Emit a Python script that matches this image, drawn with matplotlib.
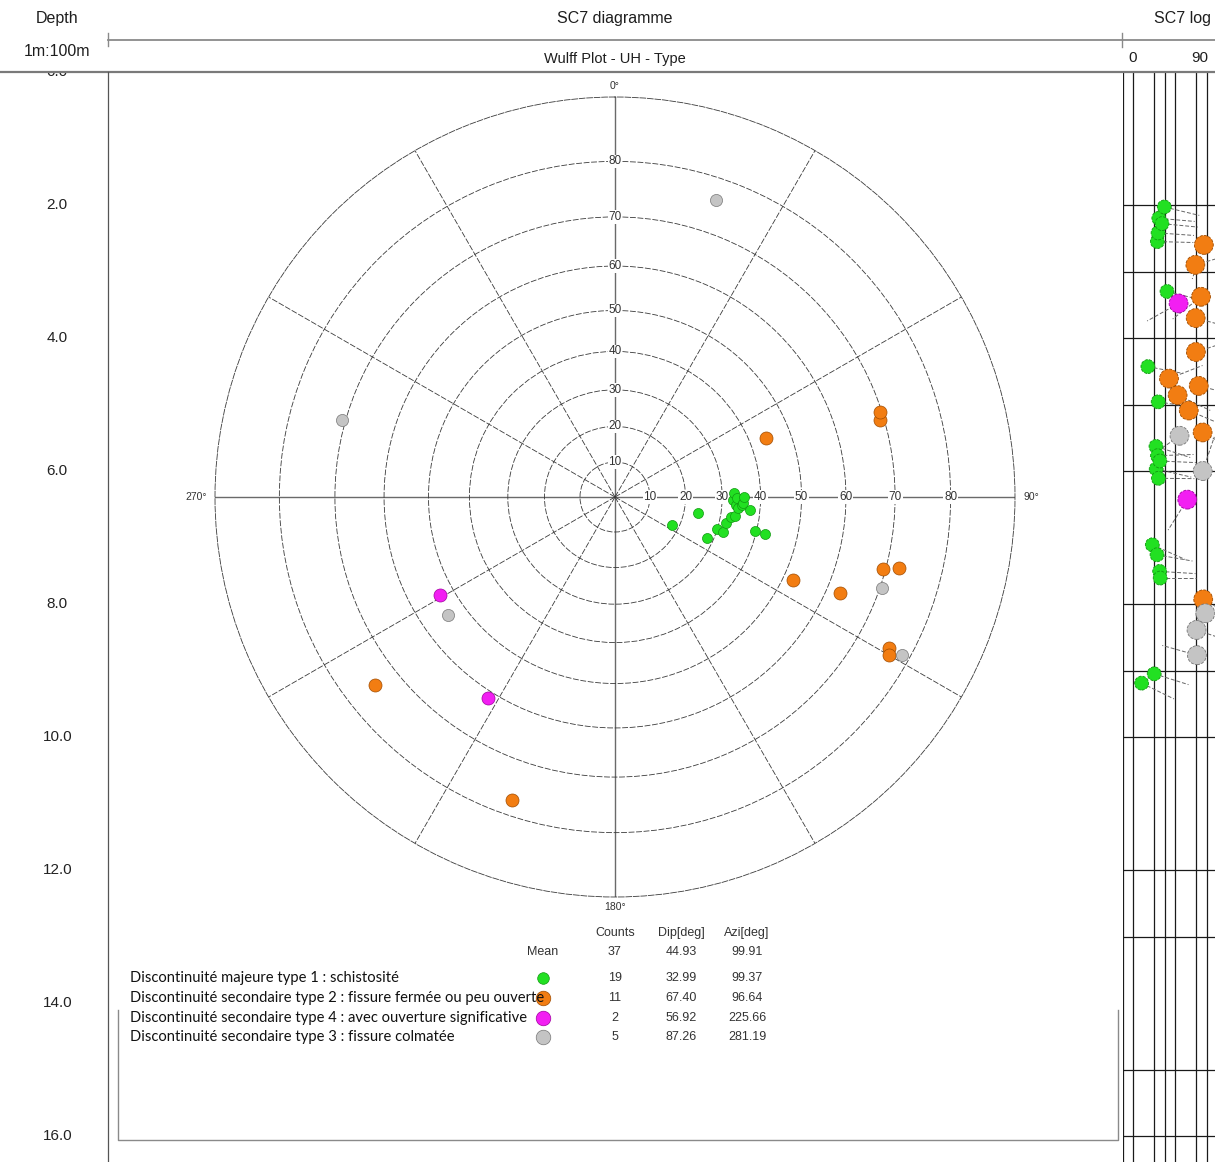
import numpy as np
import matplotlib
matplotlib.use("Agg")
import matplotlib.pyplot as plt
import matplotlib.transforms as mtransforms
from matplotlib.patches import Rectangle
from matplotlib.lines import Line2D

# ---- data : one row per discontinuity (depth m, dip deg, azimuth deg)
green_depth = [9.19, 4.43, 7.11, 9.05, 5.63, 5.97, 7.26, 2.55, 5.77, 2.42,
               4.96, 6.11, 2.20, 7.51, 5.85, 7.61, 2.28, 2.03, 3.30]
green_dip = [18.0, 24.0, 28.2, 30.0, 31.7, 31.9, 32.7, 33.0, 33.2, 33.7,
             33.8, 34.0, 34.4, 35.2, 35.4, 35.7, 37.4, 39.6, 42.2]
green_azi = [116, 101, 114, 107.5, 108, 103, 100, 91.5, 88, 94,
             99, 90.5, 95, 93.5, 92.5, 90, 95.5, 103.5, 104]

orange_depth = [4.61, 4.86, 5.09, 2.90, 3.70, 4.21, 4.72, 3.38, 5.42, 7.93, 2.60]
orange_dip = [44.1, 52.3, 62.9, 69.2, 69.5, 69.7, 72.4, 74.6, 76.1, 76.7, 77.3]
orange_azi = [68.7, 115.0, 113.1, 73.8, 105.0, 72.2, 104.0, 231.9, 118.9, 120.0, 198.8]

magenta_depth = [3.48, 6.43]
magenta_dip = [53.2, 61.5]
magenta_azi = [240.8, 212.2]

gray_depth = [5.47, 8.39, 8.77, 6.00, 8.14]
gray_dip = [54.1, 70.3, 70.7, 76.2, 78.7]
gray_azi = [234.7, 108.8, 285.7, 18.8, 118.8]

type_labels = ["Discontinuité majeure type 1 : schistosité",
               "Discontinuité secondaire type 2 : fissure fermée ou peu ouverte",
               "Discontinuité secondaire type 4 : avec ouverture significative",
               "Discontinuité secondaire type 3 : fissure colmatée"]
type_counts = ["19", "11", "2", "5"]
type_mean_dip = ["32.99", "67.40", "56.92", "87.26"]
type_mean_azi = ["99.37", "96.64", "225.66", "281.19"]
mean_row = ["37", "44.93", "99.91"]

dip_rings = [10, 20, 30, 40, 50, 60, 70, 80]
spokes = [30, 60, 120, 150, 210, 240, 300, 330]
depth_ticks = [0, 2, 4, 6, 8, 10, 12, 14, 16]
log_grid_dips = [0, 10, 30, 40, 50, 70, 80, 90]
log_grid_depths = [2, 3, 4, 5, 6, 8, 9, 10, 12, 13, 15, 16]

groups = [
    (green_depth, green_dip, green_azi, "#22e022", "#119911", 52, 100, 70),
    (orange_depth, orange_dip, orange_azi, "#f27d12", "#a04c00", 88, 185, 110),
    (magenta_depth, magenta_dip, magenta_azi, "#f21ff2", "#a000a0", 88, 185, 110),
    (gray_depth, gray_dip, gray_azi, "#c4c4c4", "#777777", 76, 185, 110),
]

W, H = 1215, 1162
TOP = 72           # pixel row of depth 0
PX_PER_M = 66.5
depth_bottom = (H - TOP) / PX_PER_M


def fx(x):
    return x / W


def fy(y):
    return 1 - y / H


plt.rcParams['font.family'] = ['Liberation Sans', 'DejaVu Sans']
fig = plt.figure(figsize=(W / 100, H / 100), dpi=100)


# ---- Wulff net (upper hemisphere)
def wulff(d):
    return np.tan(np.radians(np.asarray(d, dtype=float)) / 2)


def wulff_inv(r):
    return np.degrees(2 * np.arctan(np.asarray(r, dtype=float)))


ax = fig.add_axes([fx(215), fy(897), 800 / W, 800 / H], projection='polar')
ax.set_theta_zero_location('N')
ax.set_theta_direction(-1)
ax.set_rscale('function', functions=(wulff, wulff_inv))
ax.set_rlim(0, 90)
ax.set_rgrids(dip_rings)
ax.set_thetagrids(spokes)
ax.set_xticklabels([])
ax.set_yticklabels([])
ax.grid(True, color='#3a3a3a', lw=0.6, ls=(0, (7, 2)))
ax.spines['polar'].set(linestyle=(0, (7, 2)), color='#3a3a3a', lw=0.6)
for th in [0, 90, 180, 270]:
    ax.plot([np.radians(th)] * 2, [0, 90], color='#6a6a6a', lw=1.0, zorder=1)
for d in dip_rings:
    for th in [0, np.pi / 2]:
        ax.text(th, d, str(d), ha='center', va='center', fontsize=8.5, color='#333333',
                bbox=dict(fc='white', ec='none', pad=0.6), zorder=2)
for s, x, y in [("0°", 0.5, 1.014), ("90°", 1.02, 0.5), ("180°", 0.5, -0.0125), ("270°", -0.024, 0.5)]:
    ax.text(x, y, s, transform=ax.transAxes, ha='center', va='center', fontsize=7.5, color='#333333')

for dep, dip, azi, fc, ec, s_net, s_log, s_leg in groups:
    ax.scatter(np.radians(azi), dip, s=s_net, c=fc, edgecolors=ec, linewidths=0.5, zorder=4, clip_on=False)

# ---- depth track
ax_d = fig.add_axes([0, 0, fx(108), (H - TOP) / H])
ax_d.set_ylim(depth_bottom, 0)
ax_d.axis('off')
tr = mtransforms.blended_transform_factory(ax_d.transAxes, ax_d.transData)
for d in depth_ticks:
    ax_d.text(0.53, d, f"{d:.1f}", transform=tr, ha='center', va='center', fontsize=11, color='#222222')

# ---- tadpole log
x0, x1 = 1122.7, 1217.2
ax_l = fig.add_axes([fx(x0), 0, (x1 - x0) / W, (H - TOP) / H])
ax_l.set_xlim(0, 90)
ax_l.set_ylim(depth_bottom, 0)
ax_l.axis('off')
for v in log_grid_dips:
    ax_l.axvline(v, color='#1a1a1a', lw=0.9)
for d in log_grid_depths:
    ax_l.axhline(d, color='#1a1a1a', lw=0.9)
px_per_deg = (x1 - x0) / 90
tail = 36
for dep, dip, azi, fc, ec, s_net, s_log, s_leg in groups:
    a = np.radians(azi)
    ex = np.asarray(dip) + tail * np.sin(a) / px_per_deg
    ey = np.asarray(dep) - tail * np.cos(a) / PX_PER_M
    for i in range(len(dep)):
        ax_l.plot([dip[i], ex[i]], [dep[i], ey[i]], color='#666666', lw=0.7, ls=(0, (4, 2)), zorder=2)
for dep, dip, azi, fc, ec, s_net, s_log, s_leg in groups:
    ax_l.scatter(dip, dep, s=s_log, c=fc, edgecolors=ec, linewidths=0.6, linestyle='--', zorder=3)

# ---- header
fig.add_artist(Rectangle((0, fy(71)), 1, 71 / H, transform=fig.transFigure, fc='white', ec='none', zorder=1))


def fline(xs, ys, **kw):
    fig.add_artist(Line2D([fx(x) for x in xs], [fy(y) for y in ys], transform=fig.transFigure, zorder=2, **kw))


fline([108, W], [39.5, 39.5], color='#8a8a8a', lw=1.3)
fline([108, 108], [33, 46], color='#8a8a8a', lw=1.0)
fline([1122, 1122], [33, 47], color='#8a8a8a', lw=1.0)
fline([0, W], [71.5, 71.5], color='#7a7a7a', lw=1.6)
fline([108, 108], [72, H], color='#555555', lw=0.9)
fline([118, 118, 1118, 1118], [1010, 1140, 1140, 1010], color='#8a8a8a', lw=1.0)

hdr = dict(ha='center', va='center', color='#1e1e1e', zorder=3)
fig.text(fx(57), fy(18), "Depth", fontsize=11.5, **hdr)
fig.text(fx(57), fy(52), "1m:100m", fontsize=11.5, **hdr)
fig.text(fx(615), fy(18), "SC7 diagramme", fontsize=11.5, **hdr)
fig.text(fx(1183), fy(18), "SC7 log", fontsize=11.5, **hdr)
fig.text(fx(615), fy(59), "Wulff Plot - UH - Type", fontsize=10.5, **hdr)
fig.text(fx(1133), fy(58), "0", fontsize=11, **hdr)
fig.text(fx(1200), fy(58), "90", fontsize=11, **hdr)

# ---- statistics table
tb = dict(ha='center', va='center', fontsize=9, color='#333333')
col_x = [615, 681, 747]
for x, s in zip(col_x, ["Counts", "Dip[deg]", "Azi[deg]"]):
    fig.text(fx(x), fy(933), s, **tb)
fig.text(fx(543), fy(952), "Mean", **tb)
for x, s in zip(col_x, mean_row):
    fig.text(fx(x), fy(952), s, **tb)
row_y = [978, 998, 1018, 1037]
for k, (grp, y) in enumerate(zip(groups, row_y)):
    fig.text(fx(130), fy(y), type_labels[k], ha='left', va='center', fontsize=10.6,
             family=['Lato', 'DejaVu Sans'], color='#111111')
    for x, s in zip(col_x, [type_counts[k], type_mean_dip[k], type_mean_azi[k]]):
        fig.text(fx(x), fy(y), s, **tb)
    fig.add_artist(Line2D([fx(543)], [fy(y)], marker='o', ls='none', markersize=np.sqrt(grp[7]),
                          markerfacecolor=grp[3], markeredgecolor=grp[4], markeredgewidth=0.5,
                          transform=fig.transFigure, zorder=3))

fig.savefig("out.png", dpi=100)
